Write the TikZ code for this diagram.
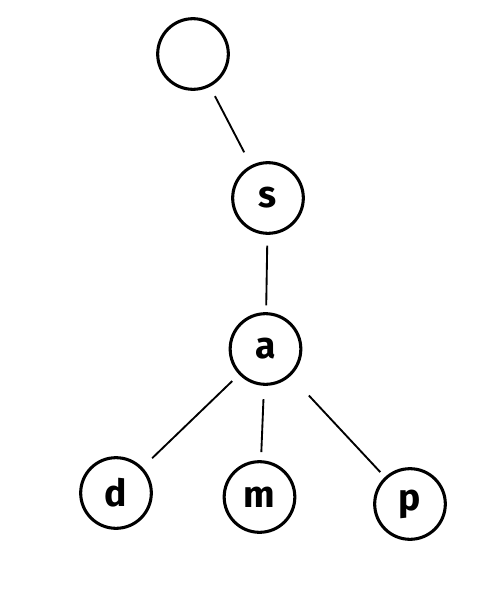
\documentclass[tikz,border=0pt]{standalone}
\usepackage{fontspec}
\setmainfont{Fira Sans}
\begin{document}
\begin{tikzpicture}[x=0.75pt,y=-0.75pt,
  vert/.style={circle,draw,line width=2.3pt,minimum size=53pt,inner sep=0pt,
    font=\fontsize{28}{32}\selectfont\bfseries},
  edge/.style={line width=1.4pt}]
\useasboundingbox[fill=white] (0,0) rectangle (500,589);
\node[vert] (top) at (193,54) {};
\node[vert] (s) at (268,198) {s};
\node[vert] (a) at (265.5,349) {a};
\node[vert] (d) at (116,493) {d};
\node[vert] (m) at (259.5,497) {m};
\node[vert] (p) at (410,504) {p};
\draw[edge,shorten <=8pt,shorten >=11pt] (top) -- (s);
\draw[edge,shorten <=8pt,shorten >=5pt] (s) -- (a);
\draw[edge,shorten <=7pt,shorten >=10pt] (a) -- (d);
\draw[edge,shorten <=10pt,shorten >=6pt] (a) -- (m);
\draw[edge,shorten <=20pt,shorten >=5pt] (a) -- (p);
\end{tikzpicture}
\end{document}
